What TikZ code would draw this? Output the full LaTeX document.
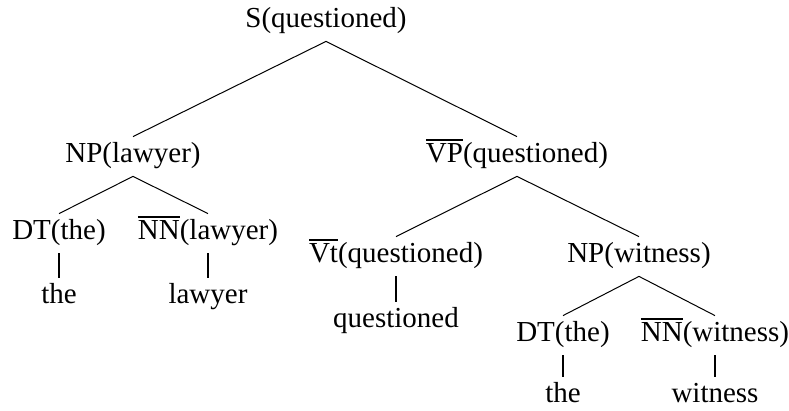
\documentclass[tikz,border=0pt]{standalone}
\usepackage{fontspec}
\setmainfont{Liberation Serif}
\usepackage{tikz}
\usetikzlibrary{positioning}
\newcommand{\olcat}[1]{\leavevmode\vbox{\hrule height 1pt\kern 1.4pt\hbox{#1}}}

\begin{document}
\begin{tikzpicture}[x=0.5pt, y=-0.5pt,
  lab/.style={anchor=base, inner sep=0pt, text height=13pt, text depth=6.5pt, font=\fontsize{14.5}{17}\selectfont},
  br/.style={line width=0.5pt},
  lf/.style={line width=1pt}]
\useasboundingbox (0,0) rectangle (789,411);
% phrase nodes
\node[lab] (s) at (326,28) {S(questioned)};
\node[lab] (npl) at (133,163) {NP(lawyer)};
\node[lab] (vp) at (517,163) {\olcat{VP}(questioned)};
\node[lab] (dtl) at (59,240) {DT(the)};
\node[lab] (nnl) at (208,240) {\olcat{NN}(lawyer)};
\node[lab] (vt) at (396,263) {\olcat{Vt}(questioned)};
\node[lab] (npw) at (639,263) {NP(witness)};
\node[lab] (dtw) at (563,342) {DT(the)};
\node[lab] (nnw) at (715,342) {\olcat{NN}(witness)};
% words
\node[lab] (wthel) at (59,304) {the};
\node[lab] (wlaw) at (208,304) {lawyer};
\node[lab] (wq) at (396,328) {questioned};
\node[lab] (wthew) at (563,403) {the};
\node[lab] (wwit) at (715,403) {witness};
% branches
\draw[br] (s.south) -- (npl.north);
\draw[br] (s.south) -- (vp.north);
\draw[br] (npl.south) -- (dtl.north);
\draw[br] (npl.south) -- (nnl.north);
\draw[br] (vp.south) -- (vt.north);
\draw[br] (vp.south) -- (npw.north);
\draw[br] (npw.south) -- (dtw.north);
\draw[br] (npw.south) -- (nnw.north);
% leaves
\draw[lf] (dtl.south) -- (wthel.north);
\draw[lf] (nnl.south) -- (wlaw.north);
\draw[lf] (vt.south) -- (wq.north);
\draw[lf] (dtw.south) -- (wthew.north);
\draw[lf] (nnw.south) -- (wwit.north);
\end{tikzpicture}
\end{document}
